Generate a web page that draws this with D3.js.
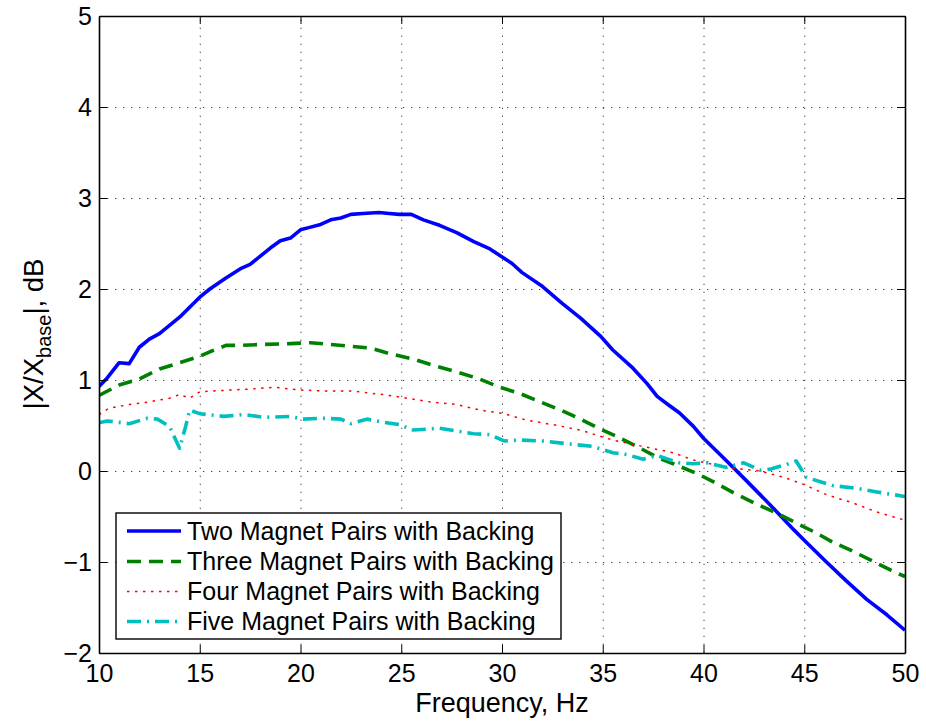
<!DOCTYPE html>
<html>
<head>
<meta charset="utf-8">
<script src="https://cdn.jsdelivr.net/npm/d3@7"></script>
<style>
  html, body { margin: 0; padding: 0; background: #fff; }
  svg { display: block; font-family: "Liberation Sans", Arial, Helvetica, sans-serif; }
</style>
</head>
<body>
<svg id="chart" width="926" height="724"></svg>
<script>
// ---- Data ----
const xTicks = [10, 15, 20, 25, 30, 35, 40, 45, 50];
const yTicks = [-2, -1, 0, 1, 2, 3, 4, 5];

const seriesNames = [
  "Two Magnet Pairs with Backing",
  "Three Magnet Pairs with Backing",
  "Four Magnet Pairs with Backing",
  "Five Magnet Pairs with Backing"
];

const freqTwo = [10, 10.4, 11.0, 11.5, 12.0, 12.5, 13.0, 13.5, 14.0, 14.5, 15.0, 15.5, 16.3, 17.0, 17.5, 18.5, 19.0, 19.5, 20.0, 20.5, 21.0, 21.5, 22.0, 22.5, 23.1, 23.9, 24.4, 24.9, 25.5, 26.1, 26.9, 27.75, 28.6, 29.4, 30.5, 31.0, 32.0, 33.0, 33.9, 34.9, 35.5, 36.5, 37.2, 37.7, 38.3, 38.8, 39.5, 40.0, 41.1, 42.1, 43.3, 44.5, 45.0, 46.1, 47.1, 48.1, 49.1, 50];
const valTwo  = [0.93, 1.02, 1.19, 1.18, 1.36, 1.45, 1.51, 1.60, 1.69, 1.80, 1.91, 2.00, 2.12, 2.22, 2.27, 2.45, 2.53, 2.56, 2.65, 2.68, 2.71, 2.76, 2.78, 2.82, 2.83, 2.84, 2.83, 2.82, 2.82, 2.76, 2.70, 2.62, 2.52, 2.44, 2.28, 2.18, 2.03, 1.84, 1.68, 1.48, 1.33, 1.13, 0.96, 0.82, 0.72, 0.64, 0.49, 0.36, 0.12, -0.10, -0.37, -0.65, -0.76, -1.00, -1.21, -1.41, -1.58, -1.75];

const freqThree = [10, 11.0, 12.0, 13.0, 14.0, 15.0, 15.5, 16.3, 17.0, 18.0, 19.5, 20.5, 21.5, 22.5, 23.5, 24.4, 25.6, 26.6, 27.75, 28.9, 29.9, 30.9, 31.9, 32.9, 33.9, 34.7, 35.7, 36.7, 37.7, 38.5, 39.7, 40.5, 41.5, 42.5, 43.5, 44.5, 45.5, 46.4, 47.3, 48.3, 49.3, 50];
const valThree  = [0.83, 0.945, 1.01, 1.12, 1.19, 1.26, 1.31, 1.38, 1.38, 1.39, 1.40, 1.41, 1.39, 1.37, 1.35, 1.29, 1.23, 1.16, 1.09, 1.01, 0.92, 0.85, 0.76, 0.67, 0.57, 0.48, 0.38, 0.27, 0.15, 0.08, -0.03, -0.12, -0.24, -0.35, -0.45, -0.56, -0.67, -0.78, -0.87, -0.98, -1.09, -1.16];

const freqFour = [10, 10.5, 11.5, 12.5, 13.5, 14.0, 14.5, 15.0, 16.5, 17.5, 18.7, 20.0, 21.1, 22.5, 24.1, 25.3, 26.4, 27.75, 28.9, 30.1, 31.2, 32.5, 33.9, 34.9, 35.5, 37.0, 38.5, 39.5, 41.1, 42.8, 44.0, 45.0, 46.1, 47.4, 48.6, 50];
const valFour  = [0.62, 0.69, 0.73, 0.76, 0.80, 0.84, 0.80, 0.87, 0.89, 0.90, 0.92, 0.89, 0.88, 0.88, 0.84, 0.80, 0.76, 0.73, 0.67, 0.63, 0.56, 0.51, 0.45, 0.38, 0.34, 0.27, 0.20, 0.12, 0.04, 0.0, -0.07, -0.15, -0.26, -0.35, -0.45, -0.54];

const freqFive = [10, 10.4, 11.5, 12.4, 12.9, 13.5, 14.0, 14.3, 14.5, 15.0, 16.2, 17.2, 18.2, 19.5, 20.1, 21.1, 22.0, 22.5, 23.3, 24.0, 24.9, 25.6, 26.9, 28.6, 29.4, 30.1, 30.9, 32.0, 33.2, 34.5, 35.5, 36.2, 37.0, 37.7, 38.8, 39.5, 40.2, 41.1, 42.0, 42.8, 43.3, 44.1, 44.6, 45.1, 46.4, 47.6, 48.6, 50];
const valFive  = [0.53, 0.55, 0.52, 0.58, 0.57, 0.49, 0.25, 0.49, 0.67, 0.63, 0.60, 0.62, 0.59, 0.60, 0.57, 0.58, 0.57, 0.52, 0.57, 0.54, 0.51, 0.45, 0.47, 0.41, 0.40, 0.33, 0.34, 0.33, 0.30, 0.27, 0.20, 0.18, 0.13, 0.17, 0.09, 0.08, 0.09, 0.04, 0.09, 0.01, 0.02, 0.07, 0.11, -0.07, -0.16, -0.19, -0.23, -0.28];

// ---- Layout ----
const svg = d3.select("#chart");
const pLeft = 99, pRight = 905, pTop = 16, pBottom = 653;
const pWidth = pRight - pLeft, pHeight = pBottom - pTop;

const x = d3.scaleLinear().domain([10, 50]).range([pLeft, pRight]);
const y = d3.scaleLinear().domain([-2, 5]).range([pBottom, pTop]);

const styles = [
  { color: "#0000ff", width: 3.6, dash: null },
  { color: "#008000", width: 3.6, dash: "14,8" },
  { color: "#ff0000", width: 1.5, dash: "2.5,5.5" },
  { color: "#00bfbf", width: 3.6, dash: "14,6,2,6" }
];

const series = [
  { name: seriesNames[0], xs: freqTwo, ys: valTwo },
  { name: seriesNames[1], xs: freqThree, ys: valThree },
  { name: seriesNames[2], xs: freqFour, ys: valFour },
  { name: seriesNames[3], xs: freqFive, ys: valFive }
];

// ---- Grid ----
const grid = svg.append("g").attr("class", "grid");
grid.append("g")
  .attr("transform", `translate(0,${pBottom})`)
  .call(d3.axisBottom(x).tickValues(xTicks).tickSize(-pHeight).tickFormat(""))
  .call(g => g.select(".domain").remove())
  .call(g => g.selectAll("line").attr("stroke", "#444").attr("stroke-width", 1).attr("stroke-dasharray", "1.3,6.7"));
grid.append("g")
  .attr("transform", `translate(${pLeft},0)`)
  .call(d3.axisLeft(y).tickValues(yTicks).tickSize(-pWidth).tickFormat(""))
  .call(g => g.select(".domain").remove())
  .call(g => g.selectAll("line").attr("stroke", "#444").attr("stroke-width", 1).attr("stroke-dasharray", "1.3,6.7"));

// ---- Lines ----
svg.append("clipPath").attr("id", "plotclip")
  .append("rect").attr("x", pLeft).attr("y", pTop).attr("width", pWidth).attr("height", pHeight);

const line = d3.line().x(d => x(d[0])).y(d => y(d[1]));
const linesG = svg.append("g").attr("clip-path", "url(#plotclip)");
series.forEach((s, i) => {
  const pts = s.xs.map((f, k) => [f, s.ys[k]]);
  linesG.append("path")
    .datum(pts)
    .attr("d", line)
    .attr("fill", "none")
    .attr("stroke", styles[i].color)
    .attr("stroke-width", styles[i].width)
    .attr("stroke-linejoin", "round")
    .attr("stroke-dasharray", styles[i].dash);
});

// ---- Axes ----
const tickFont = 25;
const axisStyle = g => {
  g.select(".domain").attr("stroke", "#000").attr("stroke-width", 1.6);
  g.selectAll(".tick line").attr("stroke", "#000").attr("stroke-width", 1);
  g.selectAll(".tick text").attr("fill", "#000").attr("font-size", tickFont)
    .attr("font-family", '"Liberation Sans", Arial, sans-serif');
};
svg.append("g")
  .attr("transform", `translate(0,${pBottom})`)
  .call(d3.axisBottom(x).tickValues(xTicks).tickSizeInner(-8).tickSizeOuter(0).tickPadding(11).tickFormat(d3.format("d")))
  .call(axisStyle);
svg.append("g")
  .attr("transform", `translate(${pLeft},0)`)
  .call(d3.axisLeft(y).tickValues(yTicks).tickSizeInner(-8).tickSizeOuter(0).tickPadding(7).tickFormat(d3.format("d")))
  .call(axisStyle);
svg.append("g")
  .attr("transform", `translate(0,${pTop})`)
  .call(d3.axisTop(x).tickValues(xTicks).tickSizeInner(-8).tickSizeOuter(0).tickFormat(""))
  .call(axisStyle);
svg.append("g")
  .attr("transform", `translate(${pRight},0)`)
  .call(d3.axisRight(y).tickValues(yTicks).tickSizeInner(-8).tickSizeOuter(0).tickFormat(""))
  .call(axisStyle);

// ---- Axis labels ----
svg.append("text")
  .attr("x", (pLeft + pRight) / 2)
  .attr("y", 712)
  .attr("text-anchor", "middle")
  .attr("font-size", 27)
  .attr("fill", "#000")
  .text("Frequency, Hz");

const yl = svg.append("text")
  .attr("transform", `translate(43,334) rotate(-90)`)
  .attr("text-anchor", "middle")
  .attr("font-size", 27.5)
  .attr("fill", "#000");
yl.append("tspan").text("|X/X");
yl.append("tspan").attr("font-size", 20).attr("dy", 8).text("base");
yl.append("tspan").attr("dy", -8).text("|, dB");

// ---- Legend ----
const lg = svg.append("g");
lg.append("rect")
  .attr("x", 116).attr("y", 513).attr("width", 445).attr("height", 126)
  .attr("fill", "#fff").attr("stroke", "#000").attr("stroke-width", 1.4);
const legendRows = [531, 561.5, 591.5, 621.5];
series.forEach((s, i) => {
  lg.append("line")
    .attr("x1", 127).attr("x2", 181)
    .attr("y1", legendRows[i]).attr("y2", legendRows[i])
    .attr("stroke", styles[i].color)
    .attr("stroke-width", styles[i].width)
    .attr("stroke-dasharray", styles[i].dash);
  lg.append("text")
    .attr("x", 187).attr("y", legendRows[i])
    .attr("dy", "0.35em")
    .attr("font-size", 25)
    .attr("fill", "#000")
    .text(s.name);
});
</script>
</body>
</html>
